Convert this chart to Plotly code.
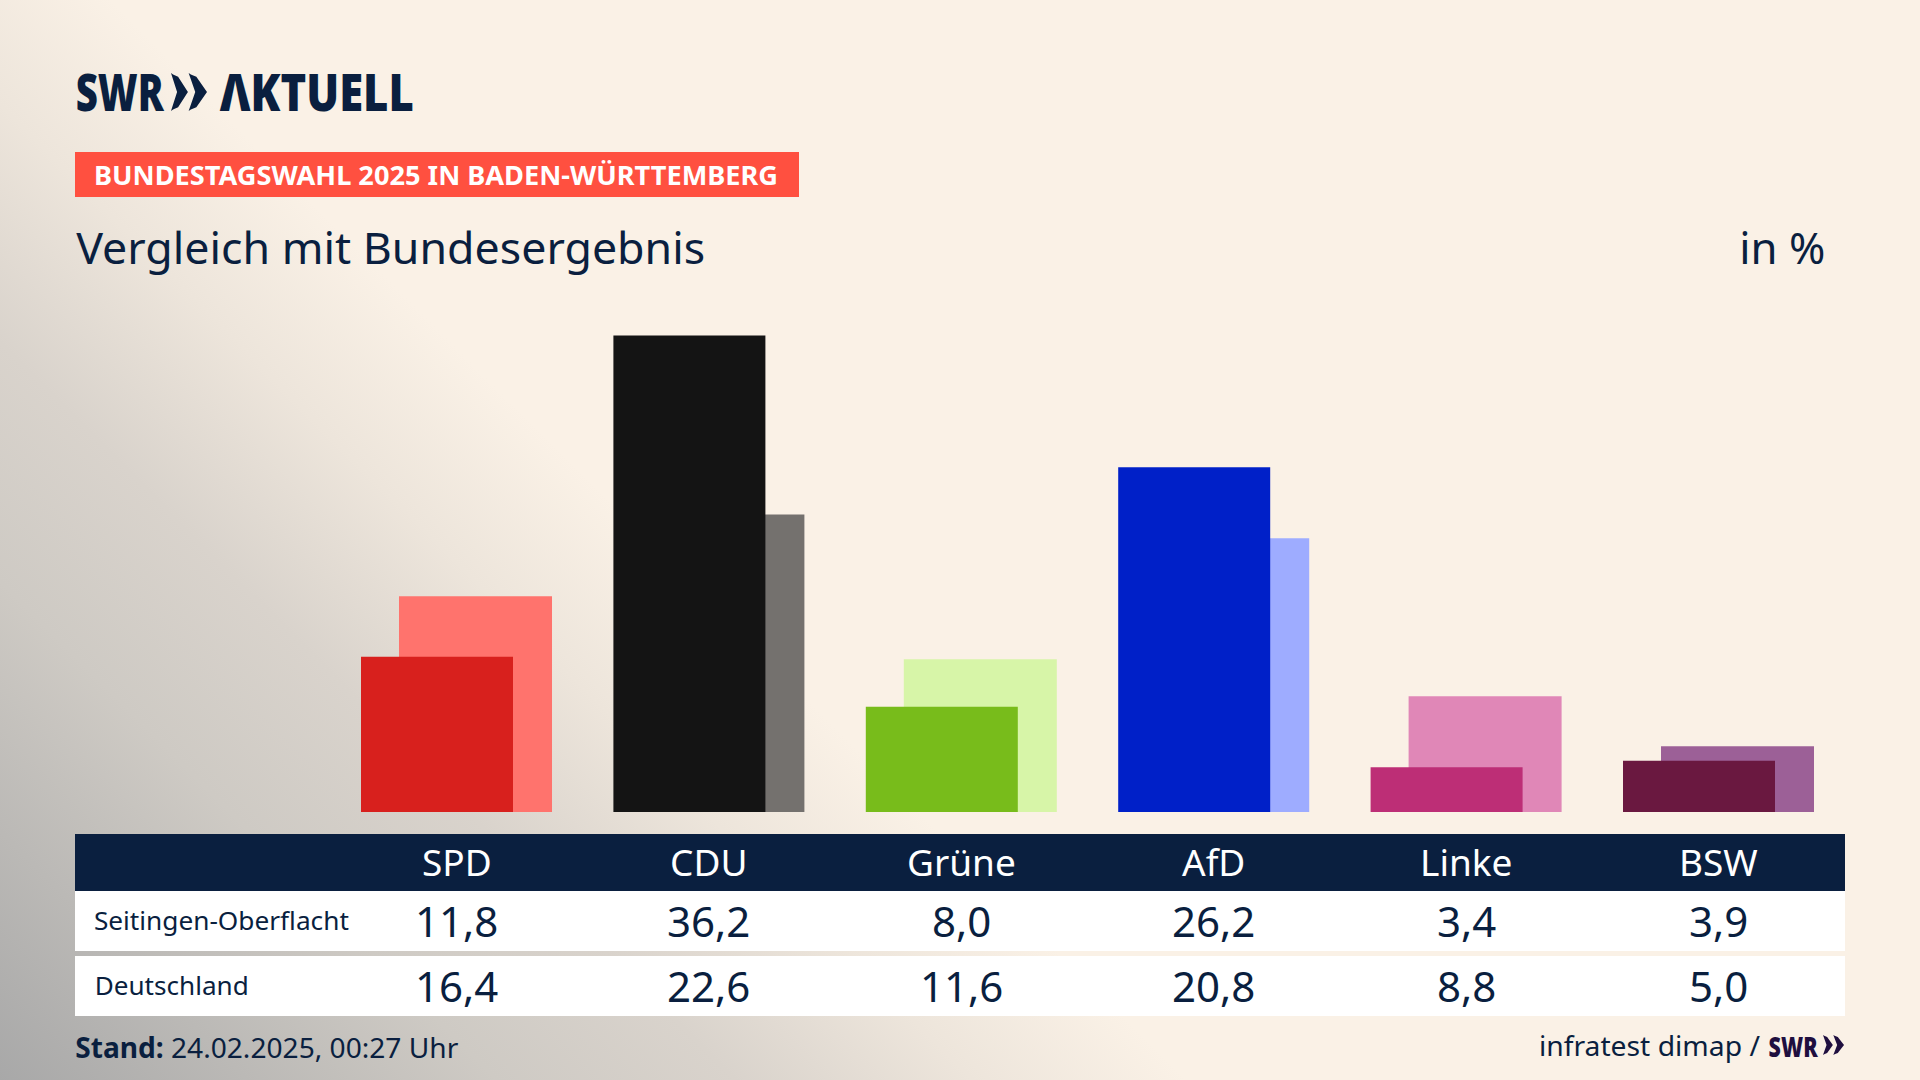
import base64
import json
import plotly.graph_objects as go

parties = ["SPD", "CDU", "Grüne", "AfD", "Linke", "BSW"]
seitingen = [11.8, 36.2, 8.0, 26.2, 3.4, 3.9]
deutschland = [16.4, 22.6, 11.6, 20.8, 8.8, 5.0]
row_names = ["Seitingen-Oberflacht", "Deutschland"]
front_colors = ["#D8201D", "#141414", "#78BC1B", "#0020C8", "#BD2E76", "#6A1840"]
back_colors = ["#FF736D", "#74716E", "#D7F5A8", "#9EACFF", "#E087B7", "#9C6097"]

W, H = 1920, 1080
NAVY = "#0A1F3F"
SANS = "'Noto Sans', Lato, sans-serif"


def px(x):
    return x / W


def py(y):
    return 1 - y / H


STEP = 252.4
CENTER0 = 456.5
BASE_Y = 812.0
PER_UNIT = 13.16

svg = f'''<svg xmlns="http://www.w3.org/2000/svg" width="{W}" height="{H}">
<defs><linearGradient id="g" gradientUnits="userSpaceOnUse" x1="160" y1="50" x2="-436" y2="644">
<stop offset="0" stop-color="#FAF1E6"/><stop offset="0.18" stop-color="#EDE5DB"/>
<stop offset="0.38" stop-color="#D9D3CC"/><stop offset="0.58" stop-color="#CECAC4"/>
<stop offset="1" stop-color="#A8A8A8"/></linearGradient></defs>
<rect width="{W}" height="{H}" fill="url(#g)"/></svg>'''
bg_uri = "data:image/svg+xml;base64," + base64.b64encode(svg.encode()).decode()

fig = go.Figure()
fig.add_bar(x=list(range(6)), y=deutschland, name="Deutschland", marker=dict(color=back_colors, line_width=0),
            width=153 / STEP, offset=-57.5 / STEP, hoverinfo="skip")
fig.add_bar(x=list(range(6)), y=seitingen, name=row_names[0], marker=dict(color=front_colors, line_width=0),
            width=152 / STEP, offset=-95.5 / STEP, hoverinfo="skip")

shapes = []


def rect(x0, y0, x1, y1, color):
    shapes.append(dict(type="rect", xref="paper", yref="paper", x0=px(x0), x1=px(x1), y0=py(y1), y1=py(y0),
                       fillcolor=color, line_width=0, layer="below"))


def chevrons(x0, y0, x1, y1, color):
    w = (x1 - x0)
    h = (y1 - y0)
    for off, end in ((0.0, 0.47), (0.49, 1.0)):
        s = end - off
        pts = [(off, 0.0), (off + 0.12 * s, 0.04), (off + 0.42 * s, 0.1), (end, 0.5), (off + 0.42 * s, 0.9),
               (off + 0.12 * s, 0.96), (off, 1.0), (off + 0.36 * s, 0.5)]
        d = "M " + " L ".join(f"{px(x0 + a * w):.5f},{py(y0 + b * h):.5f}" for a, b in pts) + " Z"
        shapes.append(dict(type="path", xref="paper", yref="paper", path=d, fillcolor=color, line_width=0))


rect(75, 152, 799, 197, "#FF5040")
rect(75, 834, 1845, 891, NAVY)
rect(75, 891, 1845, 951, "#FFFFFF")
rect(75, 956, 1845, 1016, "#FFFFFF")
chevrons(171, 73, 207, 111, NAVY)
chevrons(1823, 1035, 1844, 1055, "#1F0F3F")

ann = []
fit = {}


def text(x, y, s, size, color=NAVY, anchor="left", weight=400, xref="paper"):
    ann.append(dict(x=(px(x) if xref == "paper" else x), y=py(y), xref=xref, yref="paper", text=s, showarrow=False,
                    xanchor=anchor, yanchor="middle", font=dict(size=size, color=color, family=SANS, weight=weight),
                    borderpad=0, borderwidth=0))


def span(x0, x1, y, s, size, color=NAVY, weight=400):
    """Text fitted to the horizontal extent it occupies in the reference."""
    fit[s.replace("<b>", "").replace("</b>", "")] = x1 - x0
    text((x0 + x1) / 2, y, s, size, color=color, anchor="center", weight=weight)


span(76, 164, 90, "SWR", 52, weight=900)
span(220, 414, 90, "ΛKTUELL", 52, weight=900)
span(94, 778, 175, "BUNDESTAGSWAHL 2025 IN BADEN-WÜRTTEMBERG", 27, color="#FFFFFF", weight=700)
span(76, 705, 247, "Vergleich mit Bundesergebnis", 44)
span(1739, 1825, 247, "in %", 44)

for i, p in enumerate(parties):
    text(i, 861, p, 37, color="#FFFFFF", anchor="center", xref="x")
    text(i, 920, f"{seitingen[i]:.1f}".replace(".", ","), 42, anchor="center", xref="x")
    text(i, 985, f"{deutschland[i]:.1f}".replace(".", ","), 42, anchor="center", xref="x")
span(94, 349, 920, row_names[0], 26)
span(94, 248, 985, row_names[1], 26)
span(75, 458, 1047, "<b>Stand:</b> 24.02.2025, 00:27 Uhr", 28)
span(1539, 1760, 1045, "infratest dimap /", 28)
ann.append(dict(x=px(1793.5), y=py(1046), xref="paper", yref="paper", text="SWR", showarrow=False, xanchor="center",
                yanchor="middle", font=dict(size=28, color="#1F0F3F", family=SANS, weight=900)))

fig.update_layout(
    width=W, height=H, margin=dict(l=0, r=0, t=0, b=0), autosize=False,
    paper_bgcolor="#FAF1E6", plot_bgcolor="rgba(0,0,0,0)", showlegend=False, barmode="overlay",
    xaxis=dict(visible=False, range=[-CENTER0 / STEP, (W - CENTER0) / STEP], domain=[0, 1]),
    yaxis=dict(visible=False, range=[0, (BASE_Y - 300) / PER_UNIT], domain=[py(BASE_Y), py(300)]),
    shapes=shapes, annotations=ann,
    images=[dict(source=bg_uri, xref="paper", yref="paper", x=0, y=1, sizex=1, sizey=1, sizing="stretch",
                 xanchor="left", yanchor="top", layer="below")],
)
post = """
document.body.style.margin='0';document.body.style.overflow='hidden';
var fit=%s;var swrDone=0;
document.querySelectorAll('.annotation-text').forEach(function(t){
  var s=t.textContent;var len=fit[s];
  if(s==='SWR'){swrDone++;if(swrDone===2){len=49;}}
  if(len){t.setAttribute('textLength',len);t.setAttribute('lengthAdjust','spacingAndGlyphs');}
});
""" % json.dumps(fit, ensure_ascii=False)
fig.write_html("out.html", config={"displayModeBar": False}, post_script=post)
